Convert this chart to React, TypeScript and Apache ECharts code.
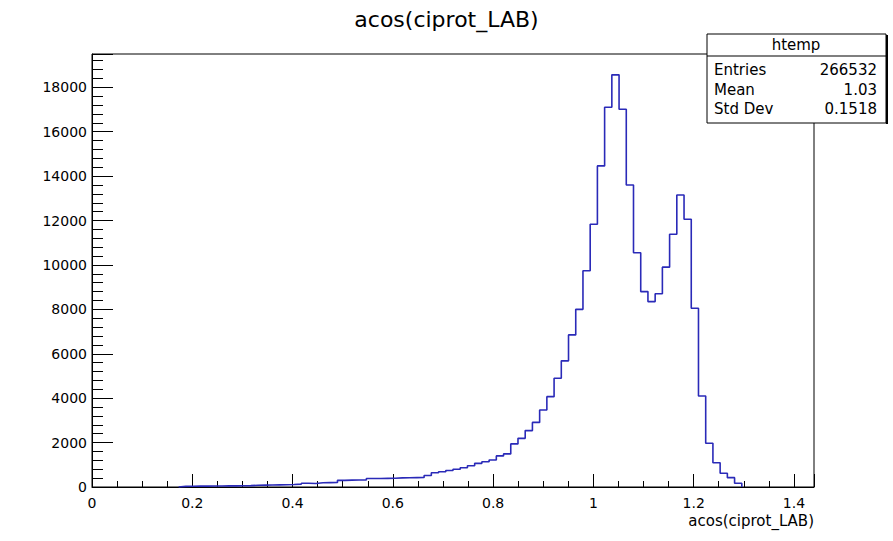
import React, { useEffect, useRef } from "react";
import * as echarts from "echarts";

const title = "acos(ciprot_LAB)";
const xTitle = "acos(ciprot_LAB)";
const binLow = 0;
const binWidth = 0.0144;
// 100 bins from 0 to 1.44
const counts = [
  0, 0, 0, 0, 0, 0, 0, 0, 0, 0,
  0, 0, 30, 35, 40, 40, 45, 45, 50, 50,
  55, 60, 80, 85, 90, 95, 100, 110, 130, 167,
  160, 190, 195, 200, 300, 310, 315, 320, 380, 385,
  390, 395, 410, 415, 420, 425, 520, 640, 690, 740,
  800, 870, 960, 1065, 1140, 1216, 1400, 1490, 1940, 2190,
  2540, 2910, 3470, 4070, 4900, 5680, 6850, 8000, 9740, 11830,
  14460, 17100, 18560, 17010, 13600, 10550, 8800, 8350, 8700, 9900,
  11380, 13150, 12060, 8050, 4100, 1970, 1095, 620, 420, 170,
  0, 0, 0, 0, 0, 0, 0, 0, 0, 0,
];
const statsName = "htemp";
const statsLabels = ["Entries", "Mean", "Std Dev"];
const statsValues = ["266532", "1.03", "0.1518"];

const FONT = "DejaVu Sans";

export default function App() {
  const ref = useRef<HTMLDivElement>(null);
  useEffect(() => {
    if (!ref.current) return;
    const chart = echarts.init(ref.current, undefined, { renderer: "svg" });
    let first = counts.findIndex((c) => c > 0);
    let last = counts.length - 1;
    while (last > 0 && counts[last] === 0) last--;
    const data: number[][] = [[binLow + first * binWidth, 0]];
    for (let i = first; i <= last; i++) data.push([binLow + i * binWidth, counts[i]]);
    data.push([binLow + (last + 1) * binWidth, counts[last]]);
    data.push([binLow + (last + 1) * binWidth, 0]);

    const statsGraphics: any[] = [
      { type: "rect", shape: { x: 707, y: 34, width: 179, height: 89 }, style: { fill: "#fff", stroke: "#000", lineWidth: 1 }, z: 10 },
      { type: "line", shape: { x1: 887, y1: 35, x2: 887, y2: 124 }, style: { stroke: "#000", lineWidth: 2 }, z: 10 },
      { type: "line", shape: { x1: 707, y1: 56, x2: 886, y2: 56 }, style: { stroke: "#000", lineWidth: 1.2 }, z: 11 },
      { type: "text", x: 796, y: 45, style: { text: statsName, font: `15px "${FONT}"`, fill: "#000", align: "center", verticalAlign: "middle" }, z: 11 },
    ];
    statsLabels.forEach((l, i) => {
      statsGraphics.push({ type: "text", x: 714, y: 70 + i * 19.5, style: { text: l, font: `15px "${FONT}"`, fill: "#000", align: "left", verticalAlign: "middle" }, z: 11 });
      statsGraphics.push({ type: "text", x: 877, y: 70 + i * 19.5, style: { text: statsValues[i], font: `15px "${FONT}"`, fill: "#000", align: "right", verticalAlign: "middle" }, z: 11 });
    });

    chart.setOption({
      animation: false,
      backgroundColor: "#fff",
      title: {
        text: title,
        left: "center",
        top: 3,
        textStyle: { fontFamily: FONT, fontSize: 22, fontWeight: "normal", color: "#000" },
      },
      grid: { left: 92, top: 54, width: 722, height: 433, show: true, borderColor: "#000", borderWidth: 1, backgroundColor: "transparent" },
      xAxis: {
        type: "value",
        min: 0,
        max: 1.44,
        interval: 0.2,
        name: xTitle,
        nameLocation: "end",
        nameGap: 0,
        nameTextStyle: { fontFamily: FONT, fontSize: 15, color: "#000", align: "right", verticalAlign: "top", padding: [26, 0, 0, 0] },
        axisLine: { show: true, lineStyle: { color: "#000", width: 1 } },
        axisTick: { show: true, inside: true, length: 13, lineStyle: { color: "#000", width: 1 } },
        minorTick: { show: true, splitNumber: 4, length: 6, lineStyle: { color: "#000", width: 1 } },
        splitLine: { show: false },
        axisLabel: { show: true, showMaxLabel: false, margin: 9, fontFamily: FONT, fontSize: 14, color: "#000", formatter: (v: number) => String(Math.round(v * 100) / 100) },
      },
      yAxis: {
        type: "value",
        min: 0,
        max: 19500,
        interval: 2000,
        axisLine: { show: true, lineStyle: { color: "#000", width: 1 } },
        axisTick: { show: true, inside: true, length: 21, lineStyle: { color: "#000", width: 1 } },
        minorTick: { show: true, splitNumber: 5, length: 11, lineStyle: { color: "#000", width: 1 } },
        splitLine: { show: false },
        axisLabel: { show: true, showMaxLabel: false, margin: 5, fontFamily: FONT, fontSize: 14, color: "#000", formatter: (v: number) => String(v) },
      },
      series: [
        {
          type: "line",
          step: "end",
          data,
          showSymbol: false,
          symbol: "none",
          lineStyle: { color: "#2a2ab8", width: 1.6 },
          clip: true,
        },
      ],
      graphic: statsGraphics,
    });
    return () => chart.dispose();
  }, []);
  return <div ref={ref} style={{ position: "fixed", left: 0, top: 0, width: 893, height: 541 }} />;
}
